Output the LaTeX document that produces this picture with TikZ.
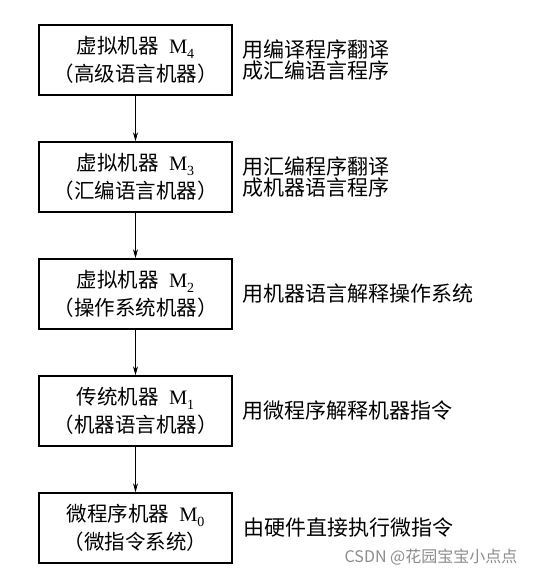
\documentclass[tikz,border=0pt]{standalone}
\usepackage{amsmath}
\usepackage{fontspec}
\usepackage{tikz}
\usetikzlibrary{positioning,arrows.meta}
\newfontfamily\cjk{Noto Sans CJK SC}
\newfontfamily\lat{Liberation Serif}
\newcommand\mach[1]{{\lat M\raisebox{-0.22em}{\fontsize{14}{14}\selectfont #1}}}

\begin{document}
\begin{tikzpicture}[x=1pt,y=1pt,level distance=117pt,grow=down,
  machine/.style={draw,line width=1.5pt,minimum width=193pt,minimum height=70pt,
    inner sep=0pt,align=center,font=\cjk\fontsize{20.5}{28}\selectfont},
  note/.style={inner sep=0pt,anchor=west,align=left,font=\cjk\fontsize{21}{21.5}\selectfont},
  edge from parent/.style={draw,line width=0.8pt,-{Stealth[length=9pt,width=5pt]}}]
\useasboundingbox (0,0) rectangle (553,576);
\node [machine] (m4) at (135.5,516) {虚拟机器\enspace\mach{4}\\（高级语言机器）}
  child {
  node [machine] (m3) {虚拟机器\enspace\mach{3}\\（汇编语言机器）}
  child {
  node [machine] (m2) {虚拟机器\enspace\mach{2}\\（操作系统机器）}
  child {
  node [machine] (m1) {传统机器\enspace\mach{1}\\（机器语言机器）}
  child {
  node [machine] (m0) {微程序机器\enspace\mach{0}\\（微指令系统）}
  }
  }
  }
  };
\node [note,right=10pt of m4] (n4) {用编译程序翻译\\成汇编语言程序};
\node [note,right=10pt of m3] (n3) {用汇编程序翻译\\成机器语言程序};
\node [note,right=10pt of m2] (n2) {用机器语言解释操作系统};
\node [note,right=10pt of m1] (n1) {用微程序解释机器指令};
\node [note,right=11pt of m0] (n0) {由硬件直接执行微指令};
\node [text=black!45,font=\cjk\fontsize{16}{16}\selectfont,inner sep=0pt] (mark) at (431,19) {CSDN @花园宝宝小点点};
\end{tikzpicture}
\end{document}
